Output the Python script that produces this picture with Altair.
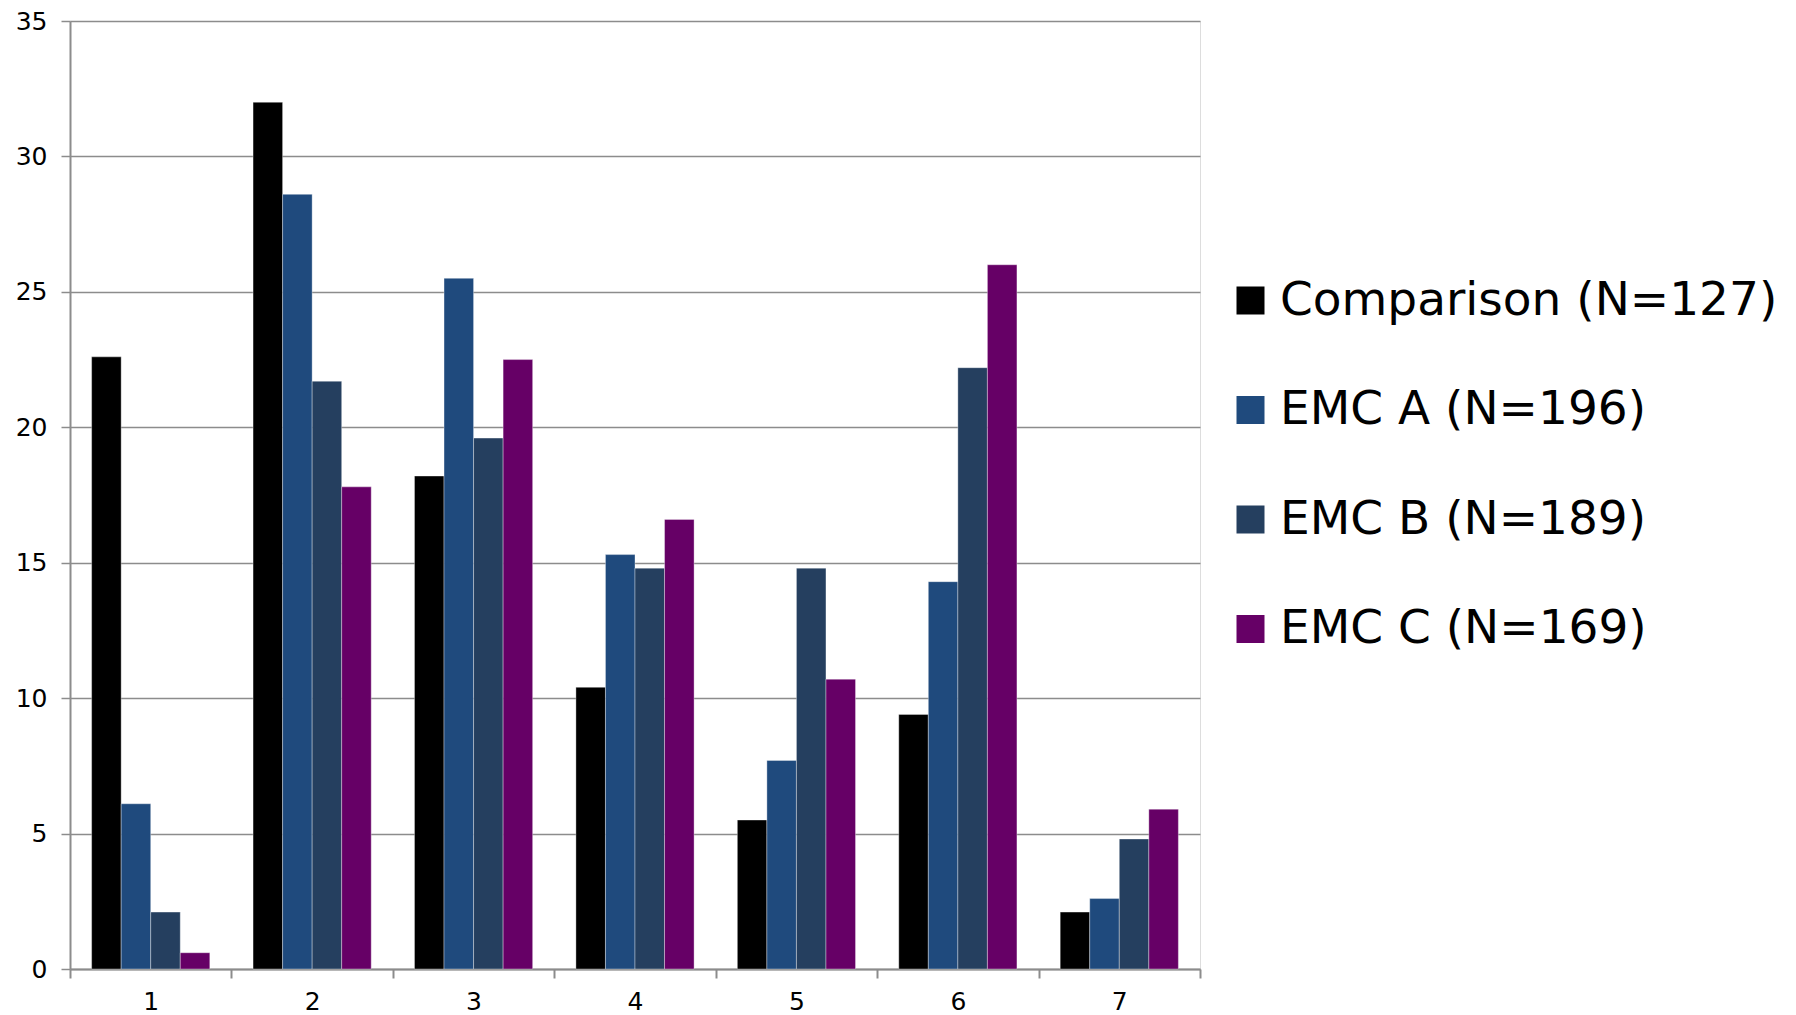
import altair as alt
import pandas as pd

categories = ["1", "2", "3", "4", "5", "6", "7"]
series = ["Comparison (N=127)", "EMC A (N=196)", "EMC B (N=189)", "EMC C (N=169)"]
comparison = [22.6, 32.0, 18.2, 10.4, 5.5, 9.4, 2.1]
emc_a = [6.1, 28.6, 25.5, 15.3, 7.7, 14.3, 2.6]
emc_b = [2.1, 21.7, 19.6, 14.8, 14.8, 22.2, 4.8]
emc_c = [0.6, 17.8, 22.5, 16.6, 10.7, 26.0, 5.9]
colors = ["#000000", "#1F4A7D", "#253F5F", "#660066"]

rows = []
for s, vals in zip(series, [comparison, emc_a, emc_b, emc_c]):
    for c, v in zip(categories, vals):
        rows.append({"cat": c, "series": s, "value": v})
df = pd.DataFrame(rows)

font = "DejaVu Sans"

chart = alt.Chart(df).mark_bar(
    stroke="#ffffff", strokeOpacity=0.35, strokeWidth=1
).encode(
    x=alt.X("cat:N", sort=categories, title=None,
            scale=alt.Scale(paddingInner=0, paddingOuter=0),
            axis=alt.Axis(labelAngle=0, tickBand="extent", grid=False,
                          domainColor="#8c8c8c", domainWidth=2,
                          tickColor="#8c8c8c", tickWidth=2, tickSize=9,
                          labelFont=font, labelFontSize=25, labelColor="#000000",
                          labelPadding=11)),
    xOffset=alt.XOffset("series:N", sort=series,
                        scale=alt.Scale(paddingInner=0, paddingOuter=0.732)),
    y=alt.Y("value:Q", title=None,
            scale=alt.Scale(domain=[0, 35], nice=False, zero=True),
            axis=alt.Axis(values=[0, 5, 10, 15, 20, 25, 30, 35],
                          grid=True, gridColor="#8c8c8c", gridWidth=1.5,
                          domainColor="#8c8c8c", domainWidth=2,
                          tickColor="#8c8c8c", tickWidth=1.5, tickSize=9,
                          labelFont=font, labelFontSize=25, labelColor="#000000",
                          labelPadding=14)),
    color=alt.Color("series:N", sort=series,
                    scale=alt.Scale(domain=series, range=colors),
                    legend=alt.Legend(title=None, orient="none",
                                      legendX=1157, legendY=256,
                                      symbolType="square", symbolSize=784,
                                      symbolStrokeWidth=0, symbolOpacity=1,
                                      labelFont=font, labelFontSize=47,
                                      labelColor="#000000", labelLimit=800,
                                      labelOffset=6, rowPadding=61.5,
                                      padding=0)),
).properties(
    width=1130, height=948,
    autosize="none",
    padding={"left": 70, "top": 21, "right": 596, "bottom": 46},
).configure_view(stroke="#ffffff", strokeWidth=3, fill="#ffffff").configure(background="#ffffff")

chart.save("out.html", embed_options={"renderer": "svg", "actions": False})
